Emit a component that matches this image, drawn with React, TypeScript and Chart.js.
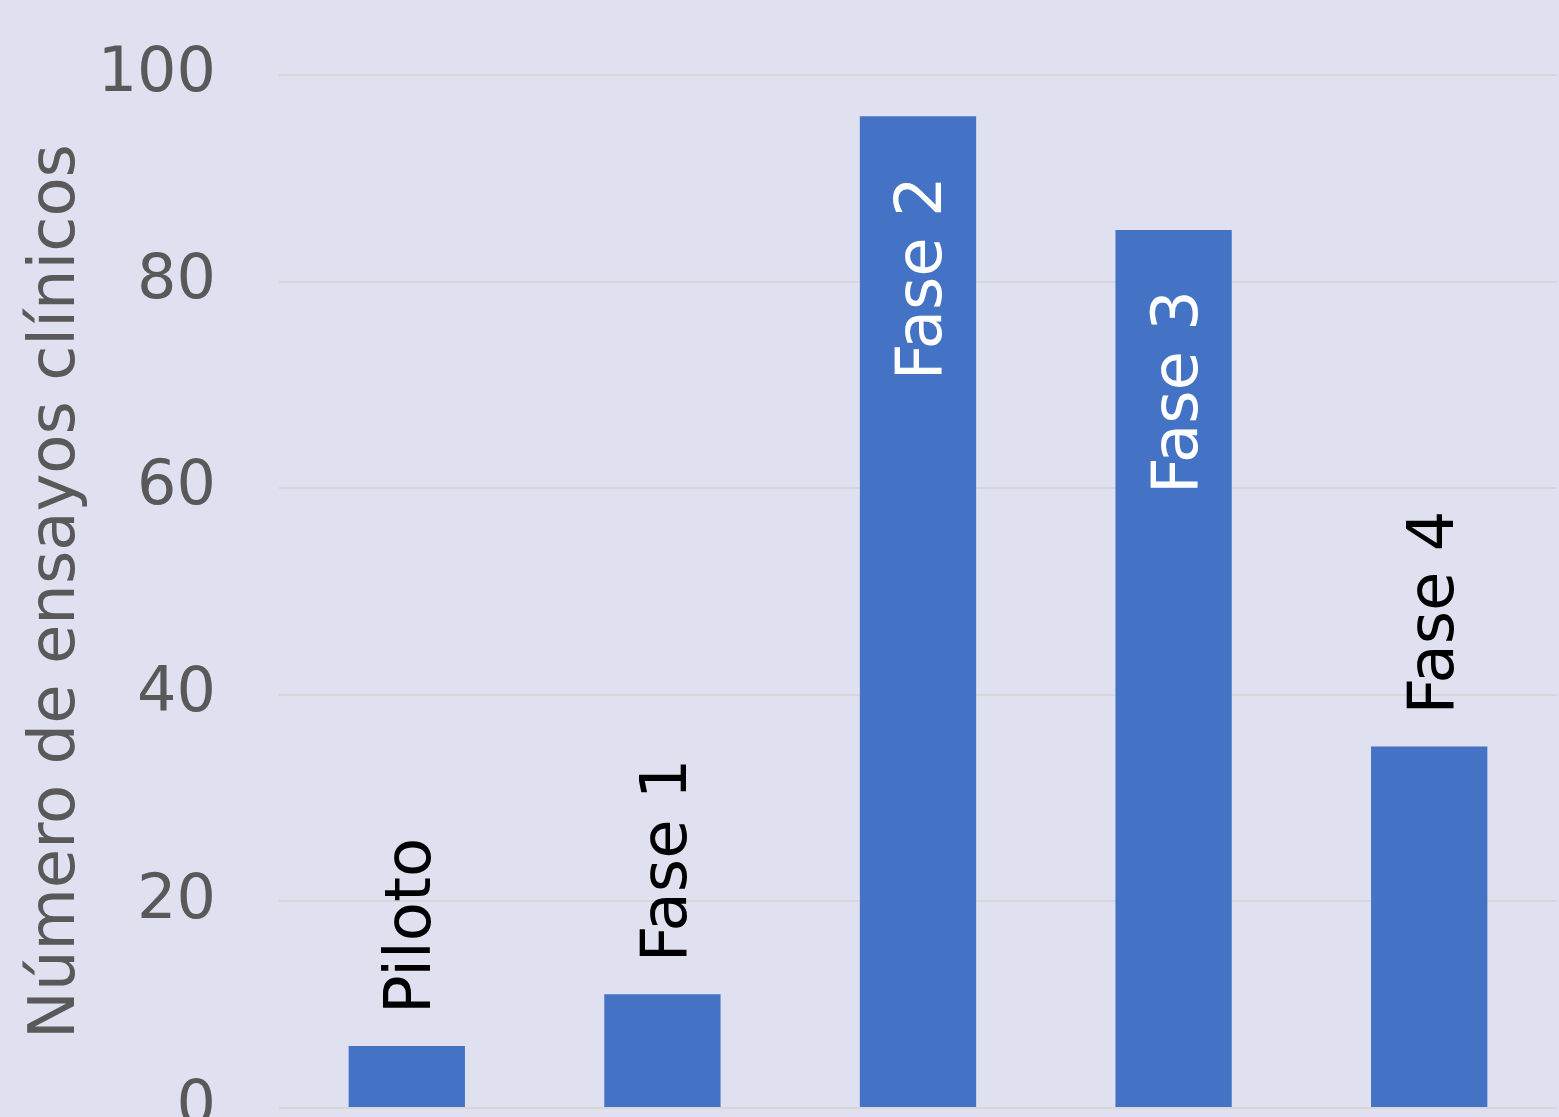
import React, { useEffect, useRef } from "react";
import { Chart, registerables } from "chart.js";

Chart.register(...registerables);

const categories: string[] = ["Piloto", "Fase 1", "Fase 2", "Fase 3", "Fase 4"];
const trialCounts: number[] = [6, 11, 96, 85, 35];
const labelInside: boolean[] = [false, false, true, true, false];
const yTicks: number[] = [0, 20, 40, 60, 80, 100];
const yTitle = "Número de ensayos clínicos";

const BG = "#DFE1F0";
const BAR = "#4472C4";
const GRAY = "#595959";
const FONT = "'DejaVu Sans', Verdana, sans-serif";

const bgPlugin = {
  id: "bgFill",
  beforeDraw(chart: any) {
    const { ctx, width, height } = chart;
    ctx.save();
    ctx.fillStyle = BG;
    ctx.fillRect(0, 0, width, height);
    ctx.restore();
  },
};

const labelPlugin = {
  id: "rotLabels",
  afterDatasetsDraw(chart: any) {
    const { ctx } = chart;
    const meta = chart.getDatasetMeta(0);
    const fs = 64;
    ctx.save();
    ctx.font = `${fs}px ${FONT}`;
    ctx.textBaseline = "alphabetic";
    meta.data.forEach((bar: any, i: number) => {
      const inside = labelInside[i];
      ctx.save();
      ctx.translate(bar.x, bar.y);
      ctx.rotate(-Math.PI / 2);
      const base = (0.729 * fs) / 2;
      if (inside) {
        ctx.fillStyle = "#FFFFFF";
        ctx.textAlign = "right";
        ctx.fillText(categories[i], -60, base);
      } else {
        ctx.fillStyle = "#000000";
        ctx.textAlign = "left";
        ctx.fillText(categories[i], 32, base);
      }
      ctx.restore();
    });
    ctx.restore();
  },
};

export default function App() {
  const ref = useRef<HTMLCanvasElement | null>(null);

  useEffect(() => {
    if (!ref.current) return;
    const chart = new Chart(ref.current, {
      type: "bar",
      data: {
        labels: categories,
        datasets: [
          {
            data: trialCounts,
            backgroundColor: BAR,
            borderWidth: 0,
            categoryPercentage: 1,
            barPercentage: 0.455,
          },
        ],
      },
      options: {
        animation: false,
        responsive: true,
        maintainAspectRatio: false,
        devicePixelRatio: 1,
        layout: { padding: { top: 75, bottom: 40, left: 0, right: 2 } },
        plugins: {
          legend: { display: false },
          tooltip: { enabled: false },
        },
        scales: {
          x: { display: false },
          y: {
            min: 0,
            max: 100,
            afterBuildTicks(scale: any) {
              scale.ticks = yTicks.map((v) => ({ value: v }));
            },
            afterFit(scale: any) {
              scale.width = 279;
              scale.paddingTop = 0;
              scale.paddingBottom = 0;
            },
            border: { display: false },
            grid: {
              color: "#D6D7D8",
              lineWidth: 2,
              drawTicks: false,
            },
            ticks: {
              color: GRAY,
              padding: 63,
              font: { family: FONT, size: 62 },
            },
            title: {
              display: true,
              text: yTitle,
              color: GRAY,
              font: { family: FONT, size: 64 },
              padding: { top: 19, bottom: 0 },
            },
          },
        },
      },
      plugins: [bgPlugin, labelPlugin],
    });
    return () => chart.destroy();
  }, []);

  return (
    <div
      style={{
        position: "fixed",
        left: 0,
        top: 0,
        width: 1559,
        height: 1117,
        overflow: "hidden",
        background: BG,
      }}
    >
      <div style={{ position: "relative", width: 1559, height: 1148 }}>
        <canvas ref={ref} />
      </div>
    </div>
  );
}
